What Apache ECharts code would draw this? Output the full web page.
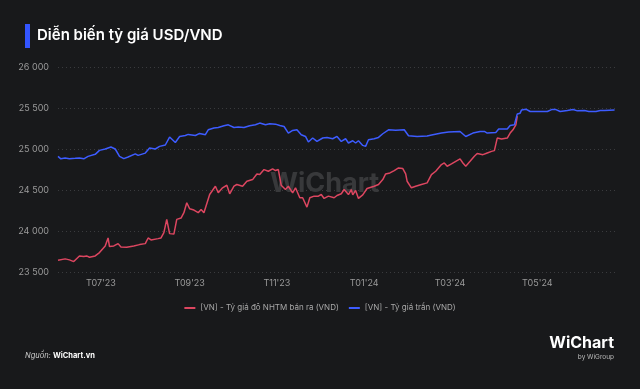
<!DOCTYPE html>
<html>
<head>
<meta charset="utf-8">
<script src="https://cdn.jsdelivr.net/npm/echarts@6/dist/echarts.min.js"></script>
<style>
html,body{margin:0;padding:0;background:#18191b;}
#c{width:640px;height:389px;}
</style>
</head>
<body>
<div id="c"></div>
<script>
const seriesNames = ['[VN] - Tỷ giá đô NHTM bán ra (VND)', '[VN] - Tỷ giá trần (VND)'];
const xRange = ['2023-06-01', '2024-06-25'];
const tickDates = ['2023-07-01','2023-09-01','2023-11-01','2024-01-01','2024-03-01','2024-05-01'];
const tickLabels = ["T07'23","T09'23","T11'23","T01'24","T03'24","T05'24"];

const redDates = ['2023-06-01','2023-06-06','2023-06-09','2023-06-12','2023-06-16','2023-06-19','2023-06-21','2023-06-23','2023-06-27','2023-06-30',
'2023-07-04','2023-07-06','2023-07-07','2023-07-10','2023-07-13','2023-07-15','2023-07-19','2023-07-24','2023-07-28','2023-08-01',
'2023-08-03','2023-08-05','2023-08-10','2023-08-12','2023-08-14','2023-08-16','2023-08-18','2023-08-21','2023-08-23','2023-08-26',
'2023-08-28','2023-08-30','2023-09-01','2023-09-04','2023-09-07','2023-09-09','2023-09-11','2023-09-15','2023-09-19','2023-09-21',
'2023-09-24','2023-09-27','2023-09-29','2023-10-02','2023-10-04','2023-10-08','2023-10-11','2023-10-15','2023-10-18','2023-10-20',
'2023-10-23','2023-10-26','2023-10-29','2023-10-31','2023-11-02','2023-11-04','2023-11-07','2023-11-09','2023-11-12','2023-11-14',
'2023-11-17','2023-11-19','2023-11-22','2023-11-24','2023-11-27','2023-11-30','2023-12-02','2023-12-04','2023-12-07','2023-12-11',
'2023-12-13','2023-12-16','2023-12-18','2023-12-21','2023-12-23','2023-12-24','2023-12-26','2023-12-28','2023-12-31','2024-01-03',
'2024-01-08','2024-01-11','2024-01-14','2024-01-16','2024-01-19','2024-01-22','2024-01-25','2024-01-28','2024-01-30','2024-01-31',
'2024-02-01','2024-02-03','2024-02-04','2024-02-06','2024-02-10','2024-02-14','2024-02-17','2024-02-20','2024-02-24','2024-02-26',
'2024-02-28','2024-03-02','2024-03-05','2024-03-08','2024-03-10','2024-03-12','2024-03-15','2024-03-18','2024-03-20','2024-03-24',
'2024-03-27','2024-03-30','2024-04-01','2024-04-03','2024-04-06','2024-04-10','2024-04-12','2024-04-14','2024-04-16','2024-04-17'];
const redValues = [23644,23660,23648,23627,23696,23688,23696,23680,23696,23737,
23818,23915,23810,23818,23846,23806,23802,23818,23834,23846,
23915,23891,23907,23915,23980,24142,23968,23963,24142,24158,
24223,24344,24271,24255,24223,24263,24223,24445,24546,24466,
24527,24558,24454,24546,24567,24546,24607,24627,24696,24688,
24749,24729,24757,24737,24749,24558,24506,24546,24466,24527,
24405,24405,24291,24405,24425,24425,24445,24397,24425,24405,
24433,24454,24506,24445,24506,24440,24495,24397,24440,24518,
24546,24567,24627,24696,24708,24737,24769,24761,24696,24607,
24587,24527,24506,24546,24567,24587,24688,24729,24810,24830,
24790,24818,24850,24879,24830,24790,24850,24911,24945,24931,
24951,24971,24980,25133,25121,25133,25194,25234,25295,25400];

const blueDates = ['2023-06-01','2023-06-03','2023-06-06','2023-06-09','2023-06-13','2023-06-16','2023-06-19','2023-06-22','2023-06-27','2023-06-30',
'2023-07-04','2023-07-08','2023-07-11','2023-07-14','2023-07-17','2023-07-20','2023-07-25','2023-07-27','2023-08-01','2023-08-04',
'2023-08-08','2023-08-11','2023-08-15','2023-08-18','2023-08-20','2023-08-22','2023-08-25','2023-08-29','2023-08-31','2023-09-05',
'2023-09-08','2023-09-12','2023-09-14','2023-09-18','2023-09-21','2023-09-25','2023-09-28','2023-10-02','2023-10-05','2023-10-09',
'2023-10-13','2023-10-17','2023-10-20','2023-10-24','2023-10-27','2023-10-31','2023-11-03','2023-11-06','2023-11-09','2023-11-12',
'2023-11-15','2023-11-18','2023-11-21','2023-11-23','2023-11-26','2023-11-29','2023-12-03','2023-12-06','2023-12-10','2023-12-13',
'2023-12-16','2023-12-19','2023-12-21','2023-12-24','2023-12-26','2023-12-28','2023-12-31','2024-01-02','2024-01-04','2024-01-08',
'2024-01-11','2024-01-14','2024-01-18','2024-01-23','2024-01-29','2024-02-01','2024-02-07','2024-02-14','2024-02-18','2024-02-24',
'2024-02-29','2024-03-08','2024-03-12','2024-03-17','2024-03-22','2024-03-25','2024-03-27','2024-04-02','2024-04-04','2024-04-10',
'2024-04-12','2024-04-15','2024-04-17','2024-04-19','2024-04-20','2024-04-23','2024-04-26','2024-05-01','2024-05-08','2024-05-11',
'2024-05-14','2024-05-17','2024-05-22','2024-05-26','2024-05-29','2024-06-03','2024-06-06','2024-06-11','2024-06-14','2024-06-17','2024-06-24'];
const blueValues = [24910,24880,24890,24882,24886,24890,24880,24910,24935,24983,
25000,25024,25000,24910,24882,24903,24940,24922,24950,25012,
25000,25032,25049,25146,25113,25080,25153,25165,25178,25165,
25190,25174,25234,25255,25262,25283,25295,25262,25267,25262,
25283,25295,25316,25295,25307,25303,25286,25274,25194,25226,
25234,25174,25153,25085,25134,25092,25134,25141,25125,25153,
25092,25125,25073,25101,25073,25101,25044,25032,25113,25125,
25141,25186,25234,25230,25234,25161,25153,25158,25174,25194,
25206,25214,25153,25194,25214,25214,25194,25202,25243,25243,
25286,25295,25428,25437,25477,25486,25457,25457,25457,25481,
25481,25457,25469,25481,25465,25469,25457,25457,25469,25469,25477];

const FONT = 'Inter, "Noto Sans", sans-serif';
const chart = echarts.init(document.getElementById('c'));
const ts = d => Date.UTC(+d.slice(0,4), +d.slice(5,7) - 1, +d.slice(8,10));
const pair = (d, v) => d.map((x, i) => [ts(x), v[i]]);
const tickTs = tickDates.map(ts);
const fmtNum = v => String(v).replace(/\B(?=(\d{3})+(?!\d))/g, ' ');

chart.setOption({
  backgroundColor: '#18191b',
  animation: false,
  title: {
    text: 'Diễn biến tỷ giá USD/VND',
    left: 32, top: 23,
    textStyle: { color: '#ffffff', fontSize: 15, fontWeight: 600, fontFamily: FONT }
  },
  graphic: [
    { type: 'rect', left: 25, top: 24, shape: { width: 5, height: 24 }, style: { fill: '#3355ff' } },
    { type: 'text', left: 270, top: 170, silent: true,
      style: { text: 'WiChart', fill: 'rgba(255,255,255,0.14)', font: 'bold 27px ' + FONT } },
    { type: 'text', left: 25, top: 352,
      style: { text: '{a|Nguồn: }{b|WiChart.vn}',
        rich: { a: { fill: '#cfcfcf', fontStyle: 'italic', fontSize: 7.5, fontFamily: FONT },
                b: { fill: '#ffffff', fontWeight: 'bold', fontSize: 7.5, fontFamily: FONT } } } },
    { type: 'text', right: 26, top: 335,
      style: { text: 'WiChart', fill: '#ffffff', font: 'bold 16px ' + FONT } },
    { type: 'text', right: 26, top: 354,
      style: { text: 'by WiGroup', fill: '#bbbbbb', font: '6.5px ' + FONT } }
  ],
  legend: {
    data: seriesNames,
    top: 299, left: 'center',
    itemWidth: 11, itemHeight: 2, itemGap: 10,
    icon: 'rect',
    textStyle: { color: '#a8a8a8', fontSize: 8, fontFamily: FONT }
  },
  grid: { left: 58, right: 24, top: 67, bottom: 117 },
  xAxis: {
    type: 'value',
    min: ts(xRange[0]), max: ts(xRange[1]),
    axisLine: { show: false },
    axisTick: { show: false },
    splitLine: { show: false },
    axisLabel: {
      customValues: tickTs,
      color: '#9a9a9a', fontSize: 9, fontFamily: FONT, margin: 7,
      formatter: v => { const i = tickTs.indexOf(v); return i >= 0 ? tickLabels[i] : ''; }
    }
  },
  yAxis: {
    type: 'value', min: 23500, max: 26000, interval: 500,
    axisLine: { show: false }, axisTick: { show: false },
    splitLine: { lineStyle: { color: '#3a3b3e', type: [1, 3], width: 1 } },
    axisLabel: { color: '#9a9a9a', fontSize: 9, fontFamily: FONT, margin: 9, formatter: v => fmtNum(v) }
  },
  series: [
    { name: seriesNames[0], type: 'line', data: pair(redDates, redValues), showSymbol: false,
      lineStyle: { color: '#dc4660', width: 1.5 }, itemStyle: { color: '#dc4660' } },
    { name: seriesNames[1], type: 'line', data: pair(blueDates, blueValues), showSymbol: false,
      lineStyle: { color: '#3d5cff', width: 1.5 }, itemStyle: { color: '#3d5cff' } }
  ]
});
</script>
</body>
</html>
